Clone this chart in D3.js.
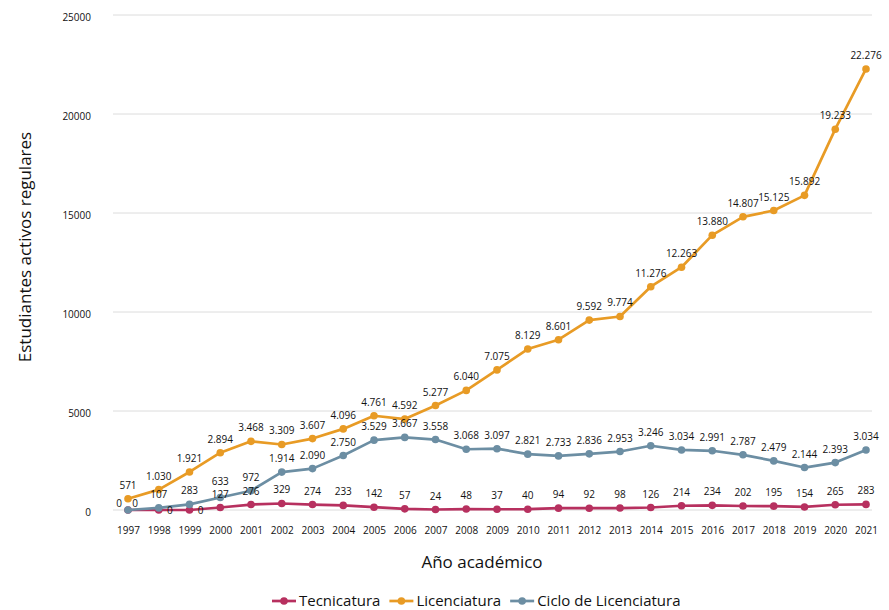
<!DOCTYPE html>
<html>
<head>
<meta charset="utf-8">
<script src="https://cdn.jsdelivr.net/npm/d3@7"></script>
<style>
  body { margin: 0; background: #fff; }
  svg { font-family: "Open Sans", "Noto Sans", sans-serif; }
</style>
</head>
<body>
<svg width="889" height="610"></svg>
<script>
// datos
const years = ["1997","1998","1999","2000","2001","2002","2003","2004","2005","2006","2007","2008",
  "2009","2010","2011","2012","2013","2014","2015","2016","2017","2018","2019","2020","2021"];
const tecnicatura = [0,0,0,127,276,329,274,233,142,57,24,48,37,40,94,92,98,126,214,234,202,195,154,265,283];
const licenciatura = [571,1030,1921,2894,3468,3309,3607,4096,4761,4592,5277,6040,7075,8129,8601,9592,
  9774,11276,12263,13880,14807,15125,15892,19233,22276];
const ciclo = [0,107,283,633,972,1914,2090,2750,3529,3667,3558,3068,3097,2821,2733,2836,2953,3246,
  3034,2991,2787,2479,2144,2393,3034];
const yTicks = [0,5000,10000,15000,20000,25000];

const series = [
  {name: "Tecnicatura", values: tecnicatura, color: "#b7305f"},
  {name: "Licenciatura", values: licenciatura, color: "#e89b25"},
  {name: "Ciclo de Licenciatura", values: ciclo, color: "#6c8ea3"}
];

const svg = d3.select("svg");
const fmt = d3.formatLocale({decimal: ",", thousands: ".", grouping: [3], currency: ["$", ""]}).format(",d");

const x = d3.scalePoint().domain(years).range([128, 866]);
const y = d3.scaleLinear().domain([0, 25000]).range([510, 15]);

// grilla
svg.append("g").selectAll("line").data(yTicks).enter().append("line")
  .attr("x1", 113).attr("x2", 872)
  .attr("y1", d => y(d)).attr("y2", d => y(d))
  .attr("stroke", "#dcdcdc").attr("stroke-width", 1);

const yAxis = svg.append("g")
  .attr("transform", "translate(91,0)")
  .call(d3.axisLeft(y).tickValues(yTicks).tickFormat(d3.format("d")).tickSize(0).tickPadding(0));
yAxis.select(".domain").remove();
yAxis.selectAll("text").attr("font-size", 10).attr("fill", "#111").attr("dy", "0.5em")
  .style("font-family", "'Open Sans', sans-serif");

const xAxis = svg.append("g")
  .attr("transform", "translate(0,524)")
  .call(d3.axisBottom(x).tickSize(0).tickPadding(3));
xAxis.select(".domain").remove();
xAxis.selectAll("text").attr("font-size", 10).attr("fill", "#111")
  .style("font-family", "'Open Sans', sans-serif");

// titulos de ejes
svg.append("text")
  .attr("transform", "translate(31,247) rotate(-90)")
  .attr("text-anchor", "middle").attr("font-size", 17).attr("fill", "#111")
  .text("Estudiantes activos regulares");
svg.append("text")
  .attr("x", 482).attr("y", 568)
  .attr("text-anchor", "middle").attr("font-size", 17).attr("fill", "#111")
  .text("Año académico");

const line = d3.line().x((d, i) => x(years[i])).y(d => y(d));

series.forEach(s => {
  const g = svg.append("g");
  g.append("path").datum(s.values)
    .attr("d", line).attr("fill", "none")
    .attr("stroke", s.color).attr("stroke-width", 2.7).attr("stroke-linejoin", "round");
  g.selectAll("circle").data(s.values).enter().append("circle")
    .attr("cx", (d, i) => x(years[i])).attr("cy", d => y(d))
    .attr("r", 3.8).attr("fill", s.color);
});

// etiquetas (con ajustes donde se pisan)
series.forEach(s => {
  svg.append("g").selectAll("text").data(s.values).enter().append("text")
    .attr("x", (d, i) => {
      let px = x(years[i]);
      if (s.name === "Tecnicatura" && d === 0) px += (i === 0 ? 7 : 11);
      if (s.name === "Ciclo de Licenciatura" && i === 0) px -= 9;
      return px;
    })
    .attr("y", (d, i) => {
      let py = y(d) - 10;
      if (d === 0 && i === 0) py = y(d) - 3;
      else if (s.name === "Tecnicatura" && d === 0) py = y(d) + 4;
      else if (s.name === "Ciclo de Licenciatura" && i === 3) py -= 2;
      else if (s.name === "Tecnicatura" && i === 3) py += 1;
      return py;
    })
    .attr("text-anchor", "middle").attr("font-size", 10).attr("fill", "#111")
    .text(d => fmt(d));
});

// leyenda
const legend = svg.append("g").attr("transform", "translate(0,601)");
let lx = 272;
series.forEach(s => {
  const item = legend.append("g").attr("transform", `translate(${lx},0)`);
  item.append("line").attr("x1", 0).attr("x2", 24).attr("y1", 0).attr("y2", 0)
    .attr("stroke", s.color).attr("stroke-width", 2.7);
  item.append("circle").attr("cx", 12).attr("cy", 0).attr("r", 3.8).attr("fill", s.color);
  const t = item.append("text").attr("x", 27).attr("y", 5)
    .attr("font-size", 15).attr("fill", "#111").text(s.name);
  lx += 27 + t.node().getComputedTextLength() + 9;
});
</script>
</body>
</html>
